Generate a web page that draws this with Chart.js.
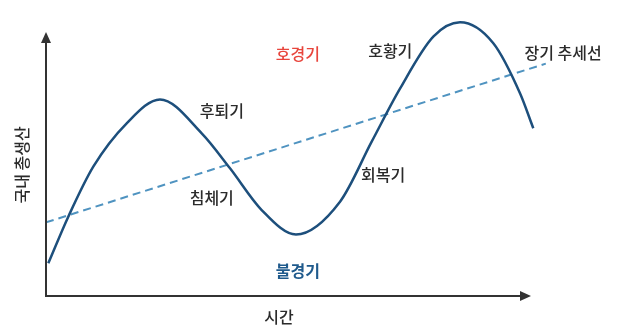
<!DOCTYPE html>
<html>
<head>
<meta charset="utf-8">
<script src="https://cdn.jsdelivr.net/npm/chart.js@4.4.0/dist/chart.umd.min.js"></script>
<style>
  html, body { margin: 0; padding: 0; background: #fff; }
  #wrap { width: 622px; height: 330px; }
</style>
</head>
<body>
<div id="wrap"><canvas id="cycleChart"></canvas></div>
<script>
// GDP business cycle (time 0..100, GDP 0..100)
const cycleX = [0.45, 4.37, 9.27, 15.82, 22.35, 30.53, 36.08, 42.29, 49.02, 57.65, 63.86, 69.41, 75.94, 81.18, 87.71, 92.94, 95.55];
const cycleY = [11.68, 28.32, 46.18, 61.68, 70.18, 58.11, 45.61, 30.71, 21.96, 33.68, 55.11, 74.04, 92.61, 97.75, 90.25, 72.39, 59.89];
const trendX = [0, 98];
const trendY = [26.3, 83];

const phaseLabels = ['호경기', '호황기', '장기 추세선', '후퇴기', '침체기', '회복기', '불경기'];
const xTitle = '시간';
const yTitle = '국내 총생산';

const toPoints = (xs, ys) => xs.map((x, i) => ({ x: x, y: ys[i] }));

const FONT = '"Noto Sans CJK KR", "Noto Sans", sans-serif';

const decorations = {
    id: 'decorations',
    afterDatasetsDraw(chart) {
        const c = chart.ctx;
        const xs = chart.scales.x, ys = chart.scales.y;
        const px = v => xs.getPixelForValue(v);
        const py = v => ys.getPixelForValue(v);

        // axes with arrow heads
        c.save();
        c.strokeStyle = '#333';
        c.fillStyle = '#333';
        c.lineWidth = 2;
        const ox = px(0), oy = py(0);
        const xEnd = px(95.1), yEnd = py(94.3);
        c.beginPath();
        c.moveTo(ox, yEnd + 8);
        c.lineTo(ox, oy);
        c.lineTo(xEnd - 8, oy);
        c.stroke();
        c.beginPath();
        c.moveTo(ox, yEnd); c.lineTo(ox - 5, yEnd + 11); c.lineTo(ox + 5, yEnd + 11);
        c.closePath(); c.fill();
        c.beginPath();
        c.moveTo(xEnd, oy); c.lineTo(xEnd - 11, oy - 5); c.lineTo(xEnd - 11, oy + 5);
        c.closePath(); c.fill();

        // phase labels
        const spots = [
            [49.4, 86.4, '#e8453c', 500],
            [67.5, 87.5, '#2b2b2b', 500],
            [101.4, 86.8, '#2b2b2b', 500],
            [34.5, 66.1, '#2b2b2b', 500],
            [32.5, 35.0, '#2b2b2b', 500],
            [66.1, 43.2, '#2b2b2b', 500],
            [49.4, 8.9, '#1f5a8c', 700]
        ];
        c.textAlign = 'center';
        c.textBaseline = 'middle';
        phaseLabels.forEach((t, i) => {
            const s = spots[i];
            c.fillStyle = s[2];
            c.font = s[3] + ' 16px ' + FONT;
            c.fillText(t, px(s[0]), py(s[1]));
        });

        // axis titles
        c.fillStyle = '#2b2b2b';
        c.font = '500 16px ' + FONT;
        c.fillText(xTitle, px(45.7), oy + 21);
        c.translate(ox - 24, py(46.8));
        c.rotate(-Math.PI / 2);
        c.fillText(yTitle, 0, 0);
        c.restore();
    }
};

new Chart(document.getElementById('cycleChart').getContext('2d'), {
    type: 'scatter',
    data: {
        datasets: [
            {
                label: '경기 순환',
                data: toPoints(cycleX, cycleY),
                showLine: true,
                borderColor: '#1d4f7c',
                borderWidth: 2.5,
                pointRadius: 0,
                cubicInterpolationMode: 'monotone'
            },
            {
                label: '장기 추세선',
                data: toPoints(trendX, trendY),
                showLine: true,
                borderColor: '#4f93c0',
                borderWidth: 2,
                borderDash: [8, 5],
                pointRadius: 0
            }
        ]
    },
    plugins: [decorations],
    options: {
        responsive: true,
        maintainAspectRatio: false,
        animation: false,
        layout: { padding: { left: 46, right: 66, top: 16, bottom: 34 } },
        plugins: { legend: { display: false }, tooltip: { enabled: false } },
        scales: {
            x: { type: 'linear', min: 0, max: 100, display: false },
            y: { type: 'linear', min: 0, max: 100, display: false }
        }
    }
});
</script>
</body>
</html>
